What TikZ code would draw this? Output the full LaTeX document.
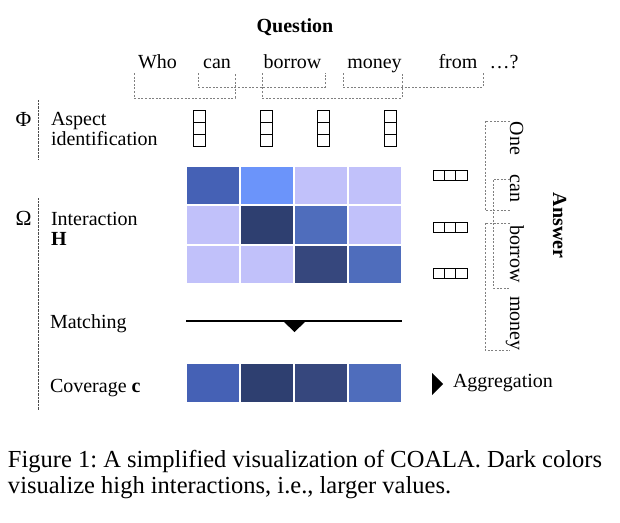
\documentclass[tikz,border=0pt]{standalone}
\usepackage{fontspec}
\setmainfont{Liberation Serif}
\frenchspacing
\definecolor{cmedA}{HTML}{4561B5}
\definecolor{cbright}{HTML}{6B94FA}
\definecolor{clight}{HTML}{C1C1FA}
\definecolor{cdark}{HTML}{2E3F70}
\definecolor{cmedB}{HTML}{4F6DBC}
\definecolor{cdarkB}{HTML}{36477D}
\definecolor{bracketgray}{HTML}{808080}
\begin{document}
\begin{tikzpicture}[x=1pt,y=-1pt,
  txt/.style={inner sep=0pt,outer sep=0pt,font=\fontsize{20}{20}\selectfont},
  word/.style={txt,anchor=base},
  lab/.style={txt,anchor=base west},
  greek/.style={txt,anchor=base,font=\fontsize{21.5}{21.5}\selectfont},
  answord/.style={txt,anchor=base,rotate=-90},
  brk/.style={draw=bracketgray,line width=0.8pt,dash pattern=on 2pt off 1.6pt},
  dotline/.style={draw=black!70,line width=0.9pt,dash pattern=on 0.7pt off 0.7pt},
  vecbox/.style={draw=black,line width=1pt},
  captxt/.style={inner sep=0pt,outer sep=0pt,anchor=base west,font=\fontsize{24.5}{26}\selectfont}]
\useasboundingbox (0,0) rectangle (620,522);
% title
\node[word,font=\fontsize{20}{20}\selectfont\bfseries] (qtitle) at (295,32) {Question};
% question words
\node[word] (qwho) at (157.5,68) {Who};
\node[word] (qcan) at (217,68) {can};
\node[word] (qborrow) at (292.5,68) {borrow};
\node[word] (qmoney) at (374.5,68) {money};
\node[word] (qfrom) at (458,68) {from};
\node[word] (qdots) at (504,68) {\dots?};
% question brackets
\draw[brk] (134,73) -- (134,98) -- (235,98) -- (235,73);
\draw[brk] (198,73) -- (198,87) -- (325,87) -- (325,73);
\draw[brk] (262,73) -- (262,98) -- (402,98) -- (402,73);
\draw[brk] (343,73) -- (343,87) -- (483,87) -- (483,73);
% left labels
\node[greek] (phi) at (23.5,126) {Φ};
\node[lab] (asp1) at (51,125) {Aspect};
\node[lab] (asp2) at (51,145) {identification};
\node[greek] (omega) at (23.5,225) {Ω};
\node[lab] (int1) at (51,225) {Interaction};
\node[lab] (int2) at (51,245) {\textbf{H}};
\node[lab] (match) at (50,328) {Matching};
\node[lab] (cov) at (50,392) {Coverage \textbf{c}};
\draw[dotline] (38,100) -- (38,160);
\draw[dotline] (38,198) -- (38,410);
% aspect vectors (vertical)
\foreach \cx in {199,266.5,323,390.5}{
  \draw[vecbox] (\cx-6,110) rectangle (\cx+6,146);
  \draw[vecbox] (\cx-6,122) -- (\cx+6,122);
  \draw[vecbox] (\cx-6,134) -- (\cx+6,134);
}
% interaction grid
\foreach \r/\cols in {0/{cmedA,cbright,clight,clight},1/{clight,cdark,cmedB,clight},2/{clight,clight,cdarkB,cmedB}}{
  \foreach \c [count=\i from 0] in \cols {
    \fill[\c] (186+54*\i+1,166+39.33*\r+1) rectangle (186+54*\i+53,166+39.33*\r+38.33);
  }
}
% answer vectors (horizontal)
\foreach \cy in {170,222,268}{
  \draw[vecbox] (433,\cy) rectangle (467,\cy+10);
  \draw[vecbox] (444.3,\cy) -- (444.3,\cy+10);
  \draw[vecbox] (455.7,\cy) -- (455.7,\cy+10);
}
% answer words
\node[answord] (aone) at (510,138.5) {One};
\node[answord] (acan) at (510,188.5) {can};
\node[answord] (aborrow) at (510,254) {borrow};
\node[answord] (amoney) at (510,323.5) {money};
\node[answord,font=\fontsize{20}{20}\selectfont\bfseries] (atitle) at (553,225.5) {Answer};
% answer brackets
\draw[brk] (510,121) -- (485,121) -- (485,210) -- (510,210);
\draw[brk] (510,179) -- (493,179) -- (493,288) -- (510,288);
\draw[brk] (510,223) -- (485,223) -- (485,350) -- (510,350);
% matching
\coordinate (mleft) at (186,321);
\coordinate (mright) at (402,321);
\draw[line width=1.2pt] (mleft) -- (mright);
\fill[black] (283,321) -- (306,321) -- (294.5,332) -- cycle;
% coverage row
\foreach \c [count=\i from 0] in {cmedA,cdark,cdarkB,cmedB}{
  \fill[\c] (186+54*\i+1,364) rectangle (186+54*\i+53,402);
}
% aggregation
\fill[black] (432,373) -- (432,395) -- (443,384) -- cycle;
\node[lab] (agg) at (453,387) {Aggregation};
% caption
\node[captxt] (cap1) at (8,467) {Figure 1: A simplified visualization of COALA. Dark colors};
\node[captxt] (cap2) at (8,493) {visualize high interactions, i.e., larger values.};
\end{tikzpicture}
\end{document}
